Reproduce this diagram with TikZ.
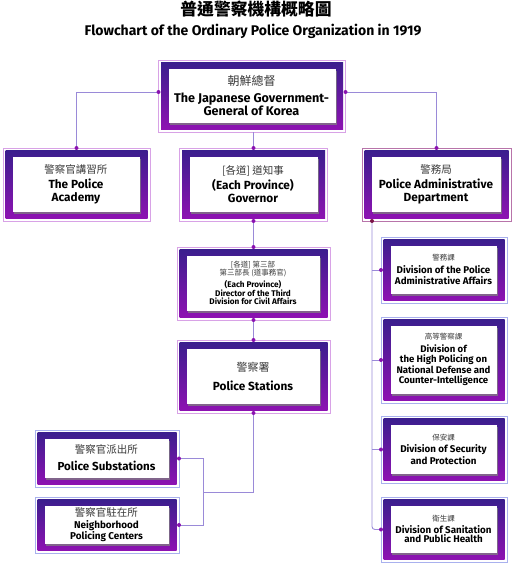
\documentclass[tikz,border=0pt]{standalone}
\usepackage{fontspec}
\setmainfont{Fira Sans}
\newfontfamily\cjk{Noto Sans CJK TC}
\usetikzlibrary{calc,shadows}

\definecolor{gradtop}{HTML}{3B1E8E}
\definecolor{gradbot}{HTML}{8E12B2}
\definecolor{framepink}{HTML}{D8A2E6}
\definecolor{frameblue}{HTML}{A9B1EE}
\definecolor{framemauve}{HTML}{B874AA}
\definecolor{linklav}{HTML}{9A8AD8}
\definecolor{dotpurple}{HTML}{8A12B0}
\definecolor{dotmaroon}{HTML}{7A1448}
\definecolor{zhgray}{HTML}{3A3A3A}

\tikzset{
  orgframe/.style = {draw=#1, line width=0.8pt, inner sep=0pt, outer sep=0pt},
  grad/.style = {top color=gradtop, bottom color=gradbot},
  card/.style = {fill=white, drop shadow={shadow xshift=1.2pt, shadow yshift=-1.6pt, opacity=0.75}},
  boxtext/.style = {align=center, inner sep=0pt, font=\bfseries\fontsize{11.8}{13}\selectfont},
  link/.style = {draw=linklav, line width=0.9pt},
}

% chinese line inside a box
\newcommand{\zh}[2]{{\cjk\mdseries\fontsize{#1}{#1}\selectfont\color{zhgray}#2}}

% [frame colour]{name}{centre}{width}{height}{text style}{text}
\newcommand{\orgbox}[7][framepink]{
  \node[orgframe=#1, minimum width=#4pt, minimum height=#5pt] (#2) at (#3) {};
  \shade[grad] ($(#2.north west)+(2.5,2.5)$) rectangle ($(#2.south east)+(-2.5,-2.5)$);
  \fill[card] ($(#2.north west)+(10,9)$) rectangle ($(#2.south east)+(-10,-9)$);
  \node[boxtext, #6] (#2-t) at ($(#2)+(-0.5,-0.5)$) {#7};
}

\begin{document}
\begin{tikzpicture}[x=1pt, y=-1pt]
    \useasboundingbox (0,0) rectangle (514,563);

    % titles
    \node (title-zh) at (256,9) {\cjk\bfseries\fontsize{16.8}{18}\selectfont 普通警察機構概略圖};
    \node[font=\bfseries\fontsize{14}{16}\selectfont] (title-en) at (253,31) {Flowchart of the Ordinary Police Organization in 1919};

    % boxes
    \orgbox{gov}{252,96}{187}{72}{font=\bfseries\fontsize{12.6}{13.5}\selectfont}{\zh{12}{朝鮮總督}\\[3.5pt] The Japanese Government-\\ General of Korea}
    \orgbox{acad}{76.5,184.5}{147}{73}{}{\zh{10.5}{警察官講習所}\\[2pt] The Police\\ Academy}
    \orgbox{govr}{253.5,184.5}{148}{73}{}{\zh{10.5}{[各道] 道知事}\\[2pt] (Each Province)\\ Governor}
    \orgbox[framemauve]{dept}{436.5,184.5}{149}{73}{}{\zh{10.5}{警務局}\\[2pt] Police Administrative\\ Department}
    \orgbox{dir}{253.5,283.5}{153}{73}{font=\bfseries\fontsize{8.2}{8.3}\selectfont}{\zh{7.5}{[各道] 第三部}\\ \zh{7.5}{第三部長 (道事務官)}\\[2.5pt] (Each Province)\\ Director of the Third\\ Division for Civil Affairs}
    \orgbox{stn}{253.5,376.5}{153}{73}{}{\zh{11}{警察署}\\[6pt] Police Stations}
    \orgbox[frameblue]{sub}{107,458.5}{144}{57}{font=\bfseries\fontsize{11.6}{13}\selectfont}{\zh{10.5}{警察官派出所}\\[4pt] Police Substations}
    \orgbox[frameblue]{nbr}{107,525}{144}{56}{font=\bfseries\fontsize{9.9}{10.2}\selectfont}{\zh{10.5}{警察官駐在所}\\[2pt] Neighborhood\\ Policing Centers}
    \orgbox[frameblue]{divadm}{444,270}{126}{66}{font=\bfseries\fontsize{9.8}{11}\selectfont}{\zh{7.5}{警務課}\\[2pt] Division of the Police\\ Administrative Affairs}
    \orgbox[frameblue]{divhigh}{444,360}{126}{86}{font=\bfseries\fontsize{9.6}{10.5}\selectfont}{\zh{7.5}{高等警察課}\\[2pt] Division of\\ the High Policing on\\ National Defense and\\ Counter-Intelligence}
    \orgbox[frameblue]{divsec}{444,449.5}{126}{67}{font=\bfseries\fontsize{9.8}{9.8}\selectfont}{\zh{7.5}{保安課}\\[3pt] Division of Security\\ and Protection}
    \orgbox[frameblue]{divsan}{444,529.5}{126}{65}{font=\bfseries\fontsize{9.8}{9.8}\selectfont}{\zh{7.5}{衛生課}\\[2pt] Division of Sanitation\\ and Public Health}

    % connectors
    \coordinate (govL) at ([yshift=4pt]gov.west);
    \coordinate (govR) at ([yshift=4pt]gov.east);
    \coordinate (deptfoot) at ([xshift=10pt]dept.south west);
    \coordinate (fork) at (203,492);

    \draw[link] (govL) -| (acad.north);
    \draw[link] (govR) -| (dept.north);
    \draw[link] (govr.north |- gov.south) -- (govr.north);
    \draw[link] (govr.south) -- (dir.north);
    \draw[link] (dir.south) -- (stn.north);
    \draw[link] (stn.south) |- (fork);
    \draw[link] (sub.east) -| (fork);
    \draw[link] (nbr.east) -| (fork);
    \draw[link, rounded corners=3pt] (deptfoot) |- (divsan.west);
    \foreach \d in {divadm,divhigh,divsec}
        \draw[link] (\d.west) -- (\d.west -| deptfoot);

    % dots
    \foreach \p in {govL,govR,acad.north,govr.north,dept.north,govr.south,dir.north,dir.south,stn.north,stn.south,sub.east,nbr.east,divadm.west,divhigh.west,divsec.west,divsan.west}
        \fill[dotpurple] (\p) circle (2pt);
    \fill[dotmaroon] (deptfoot) circle (2pt);
\end{tikzpicture}
\end{document}
